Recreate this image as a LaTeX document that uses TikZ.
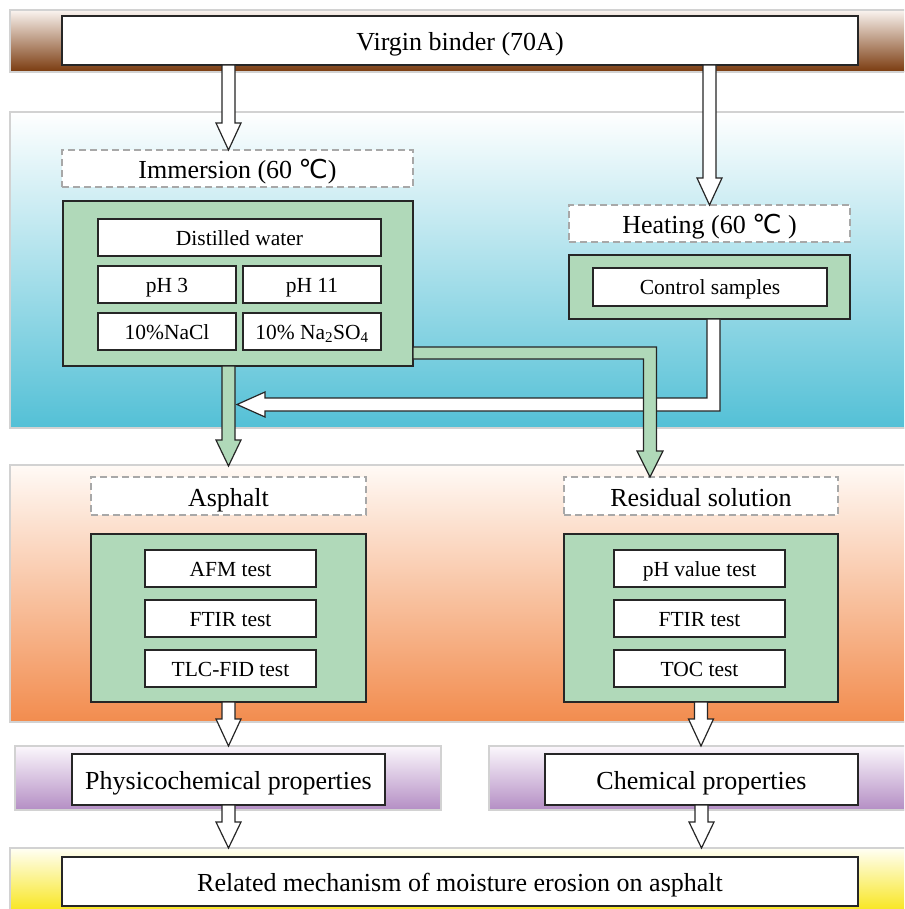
\documentclass[tikz,border=0pt]{standalone}
\usepackage{fontspec}
\setmainfont{Liberation Serif}
\newfontfamily\symfont{DejaVu Sans}
\usetikzlibrary{calc}
\definecolor{bandgray}{HTML}{D2D2D2}
\definecolor{boxline}{HTML}{262626}
\definecolor{dashgray}{HTML}{A8A8A8}
\definecolor{boxgreen}{HTML}{B0D9B9}
\definecolor{brownT}{HTML}{FAF4F0}
\definecolor{brownM}{HTML}{D2A68C}
\definecolor{brownB}{HTML}{7A3A0E}
\definecolor{blueM}{HTML}{A6DAE4}
\definecolor{blueB}{HTML}{53C0D6}
\definecolor{orangeT}{HTML}{FFFAF6}
\definecolor{orangeM}{HTML}{F7C7A3}
\definecolor{orangeB}{HTML}{F28C4E}
\definecolor{purpleT}{HTML}{FBF7FC}
\definecolor{purpleM}{HTML}{DCC7E3}
\definecolor{purpleB}{HTML}{B48EC4}
\definecolor{yellowT}{HTML}{FFFFF5}
\definecolor{yellowM}{HTML}{FBF08A}
\definecolor{yellowB}{HTML}{F7E200}
\begin{document}
\begin{tikzpicture}[x=1pt,y=-1pt,
  bandline/.style={draw=bandgray, line width=1.5pt},
  wbox/.style={draw=boxline, fill=white, line width=1.2pt, inner sep=0pt, outer sep=0pt, text=black},
  dbox/.style={draw=dashgray, dash pattern=on 7pt off 4pt, fill=white, line width=1.2pt, inner sep=0pt, outer sep=0pt, text=black},
  gbox/.style={draw=boxline, fill=boxgreen, line width=1.2pt, inner sep=0pt, outer sep=0pt},
  big/.style={font=\fontsize{26}{30}\selectfont, text height=20pt, text depth=0pt},
  small/.style={font=\fontsize{21.5}{25}\selectfont, text height=15pt, text depth=0pt},
  warrow/.style={draw=boxline, fill=white, line width=1.2pt, line join=miter},
  garrow/.style={draw=boxline, fill=boxgreen, line width=1.2pt, line join=miter}]
\useasboundingbox (0,0) rectangle (904,909);
\clip (0,0) rectangle (904,909);
% bands
\shade[top color=brownT, middle color=brownM, bottom color=brownB] (10,10) rectangle (920,72);
\draw[bandline] (920,10) -- (10,10) -- (10,72) -- (920,72);
\shade[top color=white, middle color=blueM, bottom color=blueB] (10,112) rectangle (920,428);
\draw[bandline] (920,112) -- (10,112) -- (10,428) -- (920,428);
\shade[top color=orangeT, middle color=orangeM, bottom color=orangeB] (10,465) rectangle (920,722);
\draw[bandline] (920,465) -- (10,465) -- (10,722) -- (920,722);
\shade[top color=purpleT, middle color=purpleM, bottom color=purpleB] (15,746) rectangle (441,810);
\draw[bandline] (15,746) rectangle (441,810);
\shade[top color=purpleT, middle color=purpleM, bottom color=purpleB] (489,746) rectangle (920,810);
\draw[bandline] (920,746) -- (489,746) -- (489,810) -- (920,810);
\shade[top color=yellowT, middle color=yellowM, bottom color=yellowB] (10,848) rectangle (920,920);
\draw[bandline] (920,848) -- (10,848) -- (10,920);
% nodes
\node[wbox, big, minimum width=796, minimum height=49] (vb) at (460,40.5) {Virgin binder (70A)};
\node[dbox, big, minimum width=351, minimum height=37] (imm) at (237.5,168.5) {Immersion (60 {\symfont ℃})};
\node[gbox, minimum width=350, minimum height=165] (gimm) at (238,283.5) {};
\node[wbox, small, minimum width=283, minimum height=37] (dw) at (239.5,237.5) {Distilled water};
\node[wbox, small, minimum width=138, minimum height=37] (ph3) at (167,284.5) {pH 3};
\node[wbox, small, minimum width=138, minimum height=37] (ph11) at (312,284.5) {pH 11};
\node[wbox, small, minimum width=138, minimum height=37] (nacl) at (167,331.5) {10\%NaCl};
\node[wbox, small, minimum width=138, minimum height=37] (naso) at (312,331.5) {10\% Na\textsubscript{2}SO\textsubscript{4}};
\node[dbox, big, minimum width=281, minimum height=37] (heat) at (709.5,223.5) {Heating (60 {\symfont ℃} )};
\node[gbox, minimum width=281, minimum height=64] (gheat) at (709.5,287) {};
\node[wbox, small, minimum width=234, minimum height=38] (ctrl) at (710,287) {Control samples};
\node[dbox, big, minimum width=275, minimum height=38] (asph) at (228.5,496) {Asphalt};
\node[gbox, minimum width=275, minimum height=168] (gasph) at (228.5,618) {};
\node[wbox, small, minimum width=171, minimum height=37] (afm) at (230.5,568.5) {AFM test};
\node[wbox, small, minimum width=171, minimum height=37] (ftira) at (230.5,618.5) {FTIR test};
\node[wbox, small, minimum width=171, minimum height=37] (tlc) at (230.5,668.5) {TLC-FID test};
\node[dbox, big, minimum width=274, minimum height=38] (res) at (701,496) {Residual solution};
\node[gbox, minimum width=274, minimum height=168] (gres) at (701,618) {};
\node[wbox, small, minimum width=171, minimum height=37] (phv) at (699.5,568.5) {pH value test};
\node[wbox, small, minimum width=171, minimum height=37] (ftirb) at (699.5,618.5) {FTIR test};
\node[wbox, small, minimum width=171, minimum height=37] (toc) at (699.5,668.5) {TOC test};
\node[wbox, big, minimum width=313, minimum height=51] (phys) at (228.5,779.5) {Physicochemical properties};
\node[wbox, big, minimum width=313, minimum height=51] (chem) at (701.5,779.5) {Chemical properties};
\node[wbox, big, minimum width=796, minimum height=49] (rel) at (460,881.5) {Related mechanism of moisture erosion on asphalt};
% helper coordinates
\coordinate (elbowx) at (650,0);
\coordinate (wx) at (713.5,0);
\coordinate (wy) at (0,404.5);
% arrows: virgin binder -> immersion / heating
\draw[warrow] let \p1=(vb.south -| asph.north), \p2=(imm.north) in
  (\x1-6.5pt,\y1) -- (\x1-6.5pt,\y2+27pt) -- (\x1-12.5pt,\y2+27pt) -- (\x1,\y2) -- (\x1+12.5pt,\y2+27pt) -- (\x1+6.5pt,\y2+27pt) -- (\x1+6.5pt,\y1) -- cycle;
\draw[warrow] let \p1=(vb.south -| heat.north), \p2=(heat.north) in
  (\x1-6.5pt,\y1) -- (\x1-6.5pt,\y2+27pt) -- (\x1-12.5pt,\y2+27pt) -- (\x1,\y2) -- (\x1+12.5pt,\y2+27pt) -- (\x1+6.5pt,\y2+27pt) -- (\x1+6.5pt,\y1) -- cycle;
% white elbow: control samples -> asphalt stream
\draw[warrow] let \p1=(gheat.south -| wx), \p2=(wy), \p4=($(gimm.south -| asph.north)+(8.5,0)$) in
  (\x1-6.5pt,\y1) -- (\x1-6.5pt,\y2+6.5pt) -- (\x4+28pt,\y2+6.5pt) -- (\x4+28pt,\y2+12.5pt) -- (\x4,\y2) -- (\x4+28pt,\y2-12.5pt) -- (\x4+28pt,\y2-6.5pt) -- (\x1+6.5pt,\y2-6.5pt) -- (\x1+6.5pt,\y1) -- cycle;
% green arrow: immersion -> asphalt
\draw[garrow] let \p1=(gimm.south -| asph.north), \p2=($(asph.north)+(0,-11)$) in
  (\x1-6.5pt,\y1) -- (\x1-6.5pt,\y2+26pt) -- (\x1-12.5pt,\y2+26pt) -- (\x1,\y2) -- (\x1+12.5pt,\y2+26pt) -- (\x1+6.5pt,\y2+26pt) -- (\x1+6.5pt,\y1) -- cycle;
% green elbow: immersion -> residual solution
\draw[garrow] let \p1=($(gimm.south east)+(0,-13)$), \p2=(res.north), \p3=(elbowx) in
  (\x1,\y1+6pt) -- (\x3+6.5pt,\y1+6pt) -- (\x3+6.5pt,\y2+26pt) -- (\x3+13pt,\y2+26pt) -- (\x3,\y2) -- (\x3-13pt,\y2+26pt) -- (\x3-6.5pt,\y2+26pt) -- (\x3-6.5pt,\y1-6pt) -- (\x1,\y1-6pt) -- cycle;
% lower white arrows
\draw[warrow] let \p1=(gasph.south), \p2=($(phys.north)+(0,-8)$) in
  (\x1-6.5pt,\y1) -- (\x1-6.5pt,\y2+27pt) -- (\x1-12.5pt,\y2+27pt) -- (\x1,\y2) -- (\x1+12.5pt,\y2+27pt) -- (\x1+6.5pt,\y2+27pt) -- (\x1+6.5pt,\y1) -- cycle;
\draw[warrow] let \p1=(gres.south), \p2=($(chem.north)+(0,-8)$) in
  (\x1-6.5pt,\y1) -- (\x1-6.5pt,\y2+27pt) -- (\x1-12.5pt,\y2+27pt) -- (\x1,\y2) -- (\x1+12.5pt,\y2+27pt) -- (\x1+6.5pt,\y2+27pt) -- (\x1+6.5pt,\y1) -- cycle;
\draw[warrow] let \p1=(phys.south), \p2=($(rel.north)+(0,-9)$) in
  (\x1-6.5pt,\y1) -- (\x1-6.5pt,\y2+26pt) -- (\x1-12.5pt,\y2+26pt) -- (\x1,\y2) -- (\x1+12.5pt,\y2+26pt) -- (\x1+6.5pt,\y2+26pt) -- (\x1+6.5pt,\y1) -- cycle;
\draw[warrow] let \p1=(chem.south), \p2=($(rel.north)+(0,-9)$) in
  (\x1-6.5pt,\y1) -- (\x1-6.5pt,\y2+26pt) -- (\x1-12.5pt,\y2+26pt) -- (\x1,\y2) -- (\x1+12.5pt,\y2+26pt) -- (\x1+6.5pt,\y2+26pt) -- (\x1+6.5pt,\y1) -- cycle;
\end{tikzpicture}
\end{document}
